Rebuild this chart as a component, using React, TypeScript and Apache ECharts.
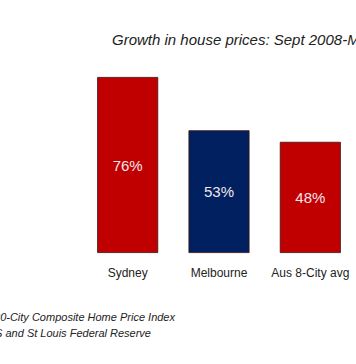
import React, { useEffect, useRef } from "react";
import * as echarts from "echarts";

const categories = ["Sydney", "Melbourne", "Aus 8-City avg"];
const growthValues = [76, 53, 48];
const barColors = ["#C00000", "#002060", "#C00000"];
const titleText = "Growth in house prices: Sept 2008-Mar 2014";
const noteText = "Note: US 20-City Composite Home Price Index";
const sourceText = "Source: ABS and St Louis Federal Reserve";

export default function App() {
  const ref = useRef<HTMLDivElement>(null);
  useEffect(() => {
    document.body.style.margin = "0";
    const chart = echarts.init(ref.current!, null, { renderer: "svg" });
    chart.setOption({
      animation: false,
      backgroundColor: "#ffffff",
      grid: { left: 82, right: 0, top: 77, bottom: 111, containLabel: false },
      xAxis: {
        type: "category",
        data: categories,
        axisLine: { show: false },
        axisTick: { show: false },
        axisLabel: {
          interval: 0,
          color: "#222222",
          fontFamily: "Liberation Sans",
          fontSize: 12,
          margin: 14,
        },
      },
      yAxis: {
        type: "value",
        min: 0,
        max: 76,
        show: false,
        splitLine: { show: false },
      },
      series: [
        {
          type: "bar",
          barWidth: 61,
          data: growthValues.map((v, i) => ({
            value: v,
            itemStyle: { color: barColors[i], borderColor: "#3a1010", borderWidth: 0.8 },
          })),
          label: {
            show: true,
            position: "inside",
            formatter: "{c}%",
            color: "#f3e6ea",
            fontFamily: "Liberation Sans",
            fontSize: 15,
          },
        },
      ],
      graphic: [
        {
          type: "text",
          x: 112,
          y: 39,
          style: {
            text: titleText,
            fill: "#222222",
            verticalAlign: "middle",
            font: "italic 15px 'Liberation Sans'",
          },
        },
        {
          type: "text",
          x: 175,
          y: 317,
          style: {
            text: noteText,
            fill: "#222222",
            align: "right",
            verticalAlign: "middle",
            font: "italic 11px 'Liberation Sans'",
          },
        },
        {
          type: "text",
          x: 151,
          y: 333,
          style: {
            text: sourceText,
            fill: "#222222",
            align: "right",
            verticalAlign: "middle",
            font: "italic 11px 'Liberation Sans'",
          },
        },
      ],
    });
    return () => chart.dispose();
  }, []);
  return <div ref={ref} style={{ width: 356, height: 364, position: "absolute", left: 0, top: 0 }} />;
}
